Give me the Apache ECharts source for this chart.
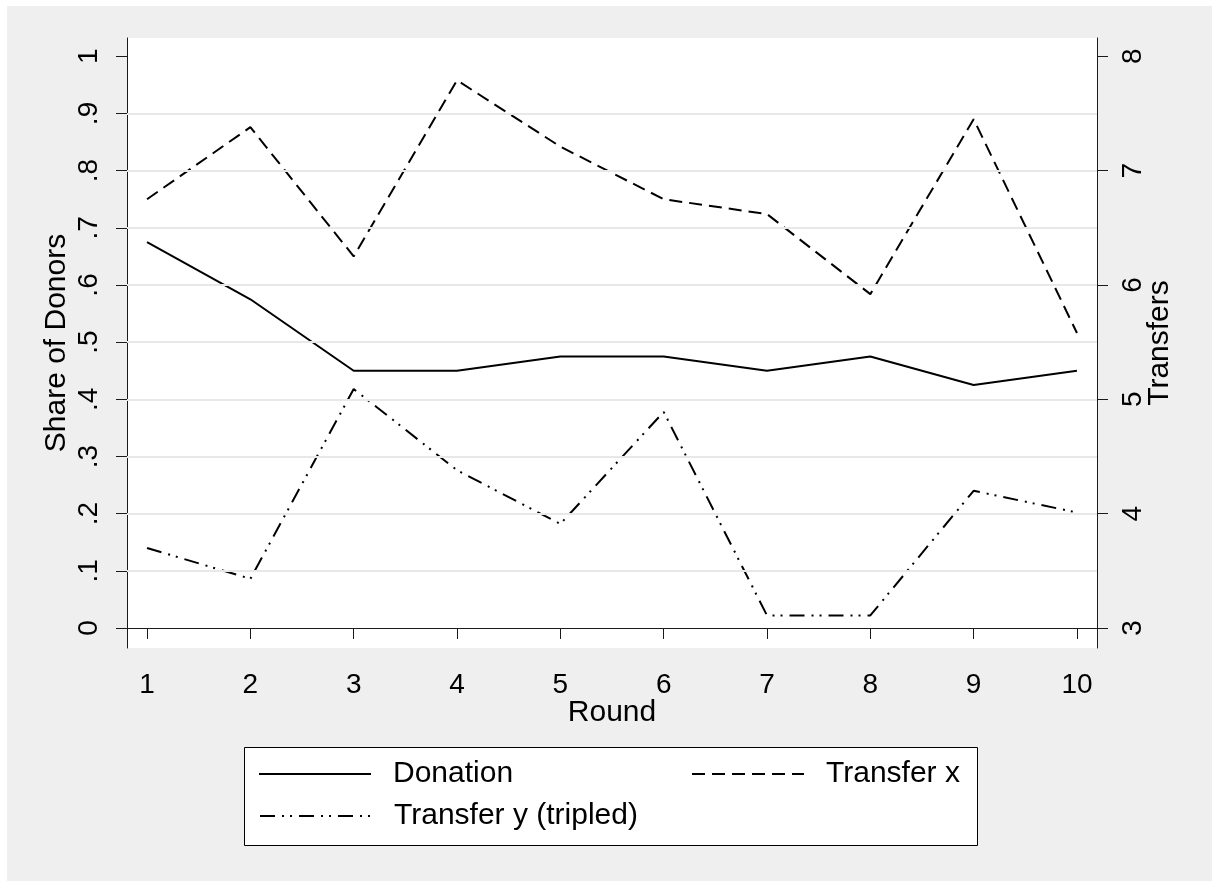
<!DOCTYPE html>
<html><head><meta charset="utf-8">
<script src="https://cdn.jsdelivr.net/npm/echarts@6/dist/echarts.min.js"></script>
<style>html,body{margin:0;padding:0;background:#fff}#c{width:1212px;height:881px}</style>
</head><body><div id="c"></div>
<script>
const rounds = [1,2,3,4,5,6,7,8,9,10];
const donation = [0.675,0.575,0.45,0.45,0.475,0.475,0.45,0.475,0.425,0.45];
const transferX = [6.75,7.38,6.25,7.79,7.21,6.75,6.62,5.92,7.45,5.58];
const transferYTripled = [3.70,3.43,5.09,4.38,3.91,4.89,3.11,3.11,4.20,4.01];
const leftTicks = [0,0.1,0.2,0.3,0.4,0.5,0.6,0.7,0.8,0.9,1];
const leftTickLabels = ['0','.1','.2','.3','.4','.5','.6','.7','.8','.9','1'];
const rightTicks = [3,4,5,6,7,8];
const gridValues = [0.1,0.2,0.3,0.4,0.5,0.6,0.7,0.8,0.9];

const FF = '"Liberation Sans", Arial, sans-serif';
const AX = '#1a1a1a';
const chart = echarts.init(document.getElementById('c'), null, {renderer:'canvas'});

function pairs(ys){ return rounds.map((r,i)=>[r, ys[i]]); }
function leftLabel(v){
  let best = 0;
  for (let i=0;i<leftTicks.length;i++) if (Math.abs(leftTicks[i]-v) < Math.abs(leftTicks[best]-v)) best = i;
  return leftTickLabels[best];
}
const legendCommon = {
  orient:'horizontal', itemWidth:112, itemHeight:14, padding:0,
  itemStyle:{opacity:0},
  textStyle:{fontSize:30, color:'#000', fontFamily:FF, padding:[0,0,0,17]}
};

chart.setOption({
  animation:false,
  backgroundColor:'#efefef',
  graphic:[
    {type:'rect', shape:{x:0,y:0,width:1212,height:6}, style:{fill:'#fff'}, silent:true},
    {type:'rect', shape:{x:0,y:0,width:7,height:881}, style:{fill:'#fff'}, silent:true},
    {type:'rect', shape:{x:244.5,y:747.5,width:733,height:98}, style:{fill:'#fff', stroke:'#000', lineWidth:1}, silent:true}
  ],
  grid:{left:127, top:38, right:115, bottom:233, show:true, backgroundColor:'#fff', borderWidth:0},
  xAxis:{
    type:'value', min:0.806, max:10.194,
    axisLine:{show:true, lineStyle:{color:AX, width:1}},
    axisTick:{show:true, customValues:rounds, length:11, lineStyle:{color:AX, width:1}},
    axisLabel:{customValues:rounds, fontSize:28, color:'#000', fontFamily:FF, margin:23},
    splitLine:{show:false},
    name:'Round', nameLocation:'middle', nameGap:50, nameMoveOverlap:false,
    nameTextStyle:{fontSize:30, color:'#000', fontFamily:FF}
  },
  yAxis:[
    {
      type:'value', position:'left', min:-0.035, max:1.032,
      axisLine:{show:true, lineStyle:{color:AX, width:1}},
      axisTick:{show:true, customValues:leftTicks, length:11, lineStyle:{color:AX, width:1}},
      axisLabel:{customValues:leftTicks, rotate:90, fontSize:28, color:'#000', fontFamily:FF, margin:24, formatter:leftLabel},
      splitLine:{show:false},
      name:'Share of Donors', nameLocation:'middle', nameRotate:90, nameGap:55, nameMoveOverlap:false,
      nameTextStyle:{fontSize:30, color:'#000', fontFamily:FF}
    },
    {
      type:'value', position:'right', min:2.825, max:8.16,
      axisLine:{show:true, lineStyle:{color:AX, width:1}},
      axisTick:{show:true, customValues:rightTicks, length:11, lineStyle:{color:AX, width:1}},
      axisLabel:{customValues:rightTicks, rotate:90, fontSize:28, color:'#000', fontFamily:FF, margin:22},
      splitLine:{show:false},
      name:'Transfers', nameLocation:'middle', nameRotate:90, nameGap:48, nameMoveOverlap:false,
      nameTextStyle:{fontSize:30, color:'#000', fontFamily:FF}
    }
  ],
  legend:[
    Object.assign({data:['Donation'], left:258, top:759}, legendCommon),
    Object.assign({data:['Transfer x'], left:691, top:759}, legendCommon),
    Object.assign({data:['Transfer y (tripled)'], left:259, top:801}, legendCommon)
  ],
  series:[
    {
      name:'_grid', type:'line', yAxisIndex:0, data:[], z:1, silent:true,
      markLine:{silent:true, symbol:['none','none'], label:{show:false},
        lineStyle:{color:'#e8e8e8', width:2, type:'solid'},
        data:gridValues.map(v=>({yAxis:v}))}
    },
    {name:'Donation', type:'line', yAxisIndex:0, data:pairs(donation), symbol:'none', z:3,
      lineStyle:{color:'#000', width:2, type:'solid'}, itemStyle:{color:'#000'}},
    {name:'Transfer x', type:'line', yAxisIndex:1, data:pairs(transferX), symbol:'none', z:3,
      lineStyle:{color:'#000', width:2, type:[13,7]}, itemStyle:{color:'#000'}},
    {name:'Transfer y (tripled)', type:'line', yAxisIndex:1, data:pairs(transferYTripled), symbol:'none', z:3,
      lineStyle:{color:'#000', width:2, type:[15,7,2,6,2,7]}, itemStyle:{color:'#000'}}
  ]
});
</script></body></html>
